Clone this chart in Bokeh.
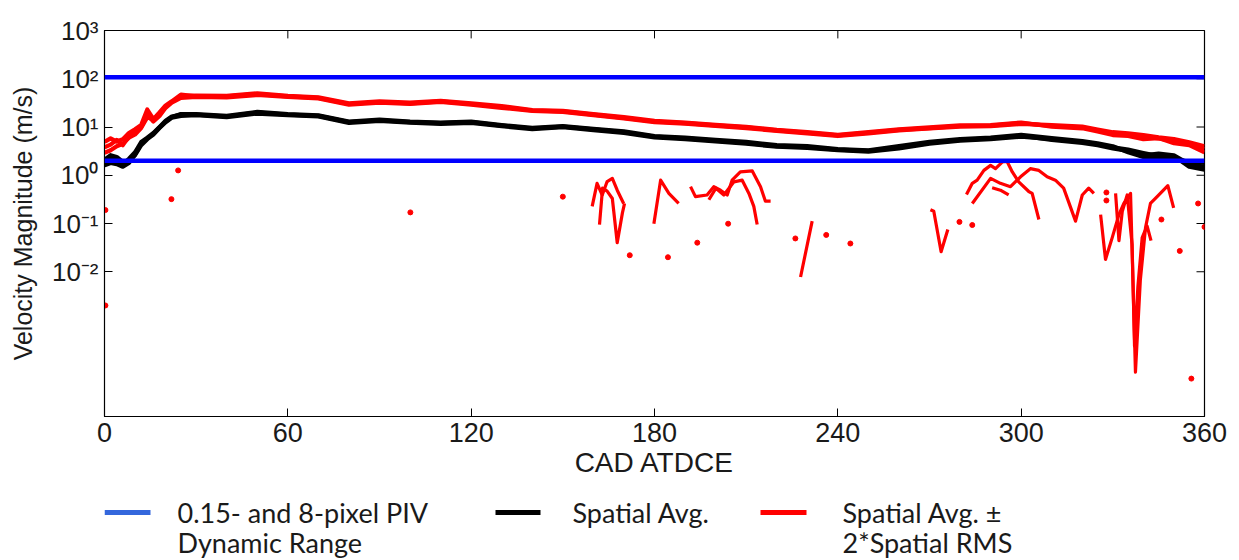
import numpy as np
from bokeh.plotting import figure
from bokeh.models import Range1d, FixedTicker, Span
from bokeh.layouts import column
from bokeh.embed import file_html
from bokeh.resources import INLINE
from bokeh.core.properties import value

nan = float("nan")

# ---------------- data ----------------
cad = [0, 2, 4, 6, 8, 10, 12, 14, 16, 18, 20, 22, 25,
       30, 40, 50, 60, 70, 80, 90, 100, 110, 120, 130, 140, 150, 160, 170, 180,
       190, 200, 210, 220, 230, 240, 250, 260, 270, 280, 290, 300, 310, 320,
       325, 330, 335, 340, 345, 350, 355, 360]

black_a = [1.9, 2.3, 2.2, 1.7, 2.2, 3.0, 4.9, 6.0, 7.5, 10, 13.5, 16.5, 18,
           18, 16.5, 20, 18, 17, 12.6, 13.8, 12.6, 12, 12.6, 10.7, 9.3, 10.2, 8.9, 7.8, 6.3,
           5.8, 5.2, 4.7, 4.0, 3.8, 3.4, 3.2, 3.8, 4.7, 5.4, 5.8, 6.6, 5.4, 4.7,
           4.2, 3.6, 3.2, 2.6, 2.8, 2.6, 1.7, 1.5]
black_b = [2.1, 2.6, 2.4, 1.9, 2.0, 2.6, 4.2, 5.6, 7.0, 9.5, 12.5, 15.5, 17,
           17.5, 16, 19, 17.5, 16.5, 12.2, 13.4, 12.3, 11.6, 12.2, 10.4, 9.0, 9.9, 8.6, 7.5, 6.1,
           5.6, 5.0, 4.5, 3.9, 3.7, 3.3, 3.1, 3.6, 4.5, 5.2, 5.6, 6.3, 5.6, 4.9,
           4.4, 3.8, 3.4, 2.9, 2.5, 2.2, 1.9, 1.8]
black_c = [1.6, 1.8, 1.7, 1.5, 1.8, 2.7, 4.5, 5.8, 7.2, 9.8, 13, 16, 18.5,
           18.5, 17, 20.5, 18.5, 17.5, 13, 14.2, 13, 12.4, 13, 11, 9.6, 10.5, 9.2, 8.1, 6.5,
           6.0, 5.4, 4.9, 4.2, 4.0, 3.5, 3.3, 4.0, 4.9, 5.6, 6.0, 6.9, 5.9, 5.1,
           4.6, 4.0, 3.0, 2.4, 2.2, 2.5, 1.5, 1.3]

red_a = [4.9, 5.8, 5.0, 5.6, 7.5, 9, 11, 23, 14.5, 20, 28, 34, 47,
         43, 43, 48, 43, 40, 30, 33, 31, 34, 30, 26, 22, 21, 18, 15.5, 13,
         12, 10.8, 9.8, 8.5, 7.6, 6.7, 7.6, 8.7, 9.5, 10.5, 10.7, 12, 10.5, 9.8,
         8.5, 7.1, 6.8, 6.3, 5.8, 5.1, 4.5, 3.5]
red_b = [3.8, 4.3, 5.4, 4.2, 6.5, 8, 10, 18, 13, 17, 25, 32, 40,
         42, 41, 46, 42, 39, 29, 32, 30, 33, 29, 25, 21.5, 20.5, 17.5, 15, 12.6,
         11.7, 10.5, 9.5, 8.3, 7.4, 6.5, 7.4, 8.5, 9.3, 10.2, 10.4, 11.6, 10.9, 10.2,
         8.9, 7.8, 7.4, 6.8, 6.1, 5.6, 4.8, 4.0]
red_c = [2.9, 3.3, 4.0, 4.5, 6.0, 7.0, 9.5, 16, 14, 18, 26, 33, 44,
         45, 44, 50, 44, 41, 31, 34, 32, 35, 31, 27, 22.5, 21.5, 18.5, 16, 13.4,
         12.3, 11.1, 10.1, 8.7, 7.8, 6.9, 7.8, 8.9, 9.8, 10.8, 11, 12.4, 10.2, 9.4,
         8.1, 6.8, 6.5, 5.6, 5.9, 4.6, 4.2, 3.0]

# lower band (avg - 2*RMS), only where positive
low1_cad = [159.6, 161.2, 162.9, 164.5, 166.2, 167.8, 169.9, nan,
            179.8, 182.0, 184.7, 187.9, nan,
            191.8, 193.4, 197.2, 199.4, 201.6, 203.8, 205.4, 208.1, 212.0, 214.7, 216.3, 218.0, nan,
            227.8, 231.6, nan,
            270.3, 271.4, 273.8, 276.0, nan,
            282.1, 284.0, 285.6, 287.8, 290.0, 291.6, 293.8, 295.4, 297.1, 299.2, 302.5, 303.6, 305.8, nan,
            326.0, 327.6, 329.8, 332.0, 333.6, 335.8, 337.4, 339.0, 340.7, 342.3, 344.5, 348.0, 349.9]
low1_val = [0.226, 0.68, 0.39, 0.74, 0.86, 0.49, 0.26, nan,
            0.099, 0.79, 0.42, 0.26, nan,
            0.58, 0.36, 0.39, 0.58, 0.49, 0.39, 0.79, 1.17, 1.23, 0.58, 0.29, 0.29, nan,
            0.0078, 0.112, nan,
            0.193, 0.18, 0.026, 0.075, nan,
            0.40, 0.68, 0.79, 1.26, 1.6, 1.37, 1.88, 1.93, 1.17, 0.73, 0.46, 0.42, 0.121, nan,
            0.153, 0.018, 0.051, 0.153, 0.26, 0.42, 8.3e-5, 0.0067, 0.082, 0.26, 0.36, 0.61, 0.21]

low2_cad = [162.0, 163.0, 164.5, 166.2, 167.8, 169.5, 170.2, nan,
            197.8, 200.1, 202.7, 206.0, 208.7, 210.9, 212.5, 213.6, nan,
            284.0, 290.0, 293.2, 296.5, 299.8, 303.0, 305.8, 308.5, 311.2, 313.9, 317.8, 320.0, 322.1, 323.8, nan,
            330.9, 332.0, 333.1, 334.7, 336.3, 337.1, 338.2, 339.6, 341.2, 342.5]
low2_val = [0.095, 0.54, 0.47, 0.33, 0.040, 0.166, 0.26, nan,
            0.31, 0.54, 0.39, 0.73, 0.79, 0.42, 0.226, 0.095, nan,
            0.26, 0.86, 0.68, 0.58, 0.93, 1.37, 1.26, 0.93, 0.79, 0.54, 0.112, 0.39, 0.54, 0.42, nan,
            0.42, 0.044, 0.18, 0.39, 0.037, 2.9e-4, 0.0049, 0.051, 0.089, 0.044]

low3_cad = [290.5, 293.2, 295.9]
low3_val = [0.55, 0.49, 0.39]

dot_cad = [0.3, 0.3, 21.9, 24.1, 100.1, 150.0, 171.9, 184.4, 194.0, 204.1, 226.1,
           236.2, 244.1, 279.8, 284.0, 327.9, 327.9, 345.9, 351.9, 355.7, 357.9, 360.0]
dot_val = [0.19, 0.002, 0.32, 1.26, 0.17, 0.36, 0.022, 0.020, 0.040, 0.099, 0.049,
           0.058, 0.0385, 0.108, 0.093, 0.44, 0.30, 0.121, 0.027, 6.1e-5, 0.26, 0.085]

dyn_range = [2.0, 107.0]   # 0.15- and 8-pixel PIV limits (m/s)

x_ticks = [0, 60, 120, 180, 240, 300, 360]
y_ticks = [1e-2, 1e-1, 1.0, 10.0, 100.0, 1000.0]
y_tick_labels = ["10\u207b\u00b2", "10\u207b\u00b9", "10\u2070", "10\u00b9", "10\u00b2", "10\u00b3"]

legend_line1 = ["0.15- and 8-pixel PIV", "Spatial Avg.", "Spatial Avg. \u00b1"]
legend_line2 = ["Dynamic Range", "2*Spatial RMS"]
legend_colors = ["#3467dc", "#000000", "#ff0000"]

FONT = "Liberation Sans"
TXT = "#1a1a1a"
X0, X1 = 0, 360
Y0, Y1 = 1e-5, 1e3

# ---------------- main plot ----------------
p = figure(width=1239, height=480, y_axis_type="log",
           x_range=Range1d(X0, X1), y_range=Range1d(Y0, Y1),
           output_backend="svg", toolbar_location=None,
           min_border_left=104, min_border_right=35,
           min_border_top=30, min_border_bottom=60)
p.grid.visible = False
p.outline_line_color = "black"
p.outline_line_width = 1.2

for lv in dyn_range:
    p.add_layout(Span(location=lv, dimension="width", line_color="#0000ff", line_width=4.5))

for series in (black_a, black_b, black_c):
    p.line(np.array(cad, float), np.array(series, float), line_color="black", line_width=4.2,
           line_join="round")
for series in (red_a, red_b, red_c):
    p.line(np.array(cad, float), np.array(series, float), line_color="#ff0000", line_width=4.2,
           line_join="round")
for xs, ys in ((low1_cad, low1_val), (low2_cad, low2_val), (low3_cad, low3_val)):
    p.line(np.array(xs, float), np.array(ys, float), line_color="#ff0000", line_width=3.2,
           line_join="round")
p.scatter(dot_cad, dot_val, size=5, color="#ff0000", marker="circle")

# inward tick marks on the top and right edges (MATLAB box style), derived from tick lists
tick_px = 8.0
x_per_px = (X1 - X0) / 1100.0
dec_per_px = (np.log10(Y1) - np.log10(Y0)) / 390.0
xt = np.array(x_ticks, float)
p.segment(x0=xt, x1=xt, y0=np.full(len(xt), Y1), y1=np.full(len(xt), Y1 / 10 ** (tick_px * dec_per_px)),
          line_color="black", line_width=1)
yt = np.array(y_ticks, float)
p.segment(x0=np.full(len(yt), X1), x1=np.full(len(yt), X1 - tick_px * x_per_px), y0=yt, y1=yt,
          line_color="black", line_width=1)

p.xaxis.ticker = FixedTicker(ticks=x_ticks)
p.yaxis.ticker = FixedTicker(ticks=y_ticks)
p.yaxis.major_label_overrides = {t: l for t, l in zip(y_ticks, y_tick_labels)}
p.xaxis.axis_label = "CAD ATDCE"
p.yaxis.axis_label = "Velocity Magnitude (m/s)"

for ax in (p.xaxis[0], p.yaxis[0]):
    ax.major_tick_in = 8
    ax.major_tick_out = 0
    ax.minor_tick_in = 0
    ax.minor_tick_out = 0
    ax.axis_line_color = "black"
    ax.major_tick_line_color = "black"
    ax.major_label_text_font = FONT
    ax.major_label_text_color = TXT
    ax.axis_label_text_font = FONT
    ax.axis_label_text_color = TXT
    ax.axis_label_text_font_style = "normal"

p.xaxis.major_label_text_font_size = "27px"
p.xaxis.axis_label_text_font_size = "28px"
p.xaxis.major_label_standoff = 6
p.xaxis.axis_label_standoff = 2
p.yaxis.major_label_text_font_size = "26px"
p.yaxis.axis_label_text_font_size = "25px"
p.yaxis.major_label_standoff = 6
p.yaxis.axis_label_standoff = 12

# ---------------- legend strip (frame is aligned with the plot frame: x in window pixels) ----
leg = figure(width=1239, height=80, x_range=Range1d(104, 1204), y_range=Range1d(80, 0),
             output_backend="svg", toolbar_location=None,
             x_axis_location=None, y_axis_location=None,
             min_border=0, outline_line_color=None)
leg.grid.visible = False
sw_x0 = [104, 495, 760]
sw_x1 = [150, 540, 806]
txt_x = [177, 572, 842]
leg.segment(x0=sw_x0, x1=sw_x1, y0=[32, 32, 32], y1=[32, 32, 32],
            line_color=legend_colors, line_width=5)
leg.text(x=txt_x, y=[32, 32, 32], text=legend_line1, text_font=value("Lato"),
         text_font_size="27px", text_baseline="middle", text_color=TXT)
leg.text(x=[txt_x[0], txt_x[2]], y=[62, 62], text=legend_line2, text_font=value("Lato"),
         text_font_size="27px", text_baseline="middle", text_color=TXT)

layout = column(p, leg, spacing=0)
open("out.html", "w").write(file_html(layout, INLINE))
